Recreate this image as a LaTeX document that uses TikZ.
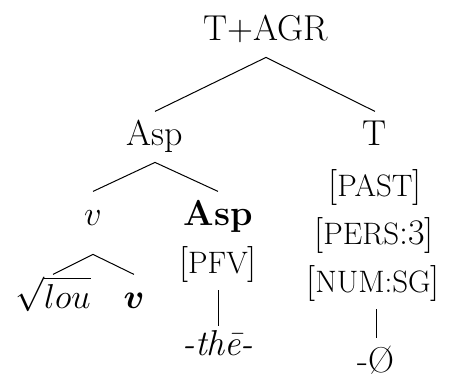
\documentclass[tikz,border=0pt]{standalone}
\usepackage{bm}
\newcommand{\fsc}[1]{{\fontsize{15.5}{18}\selectfont #1}}
\tikzset{
  tn/.style={anchor=base, inner sep=4pt, text height=12.6pt, text depth=4.5pt, font=\fontsize{18}{22}\selectfont},
  br/.style={line width=0.5pt}
}
\begin{document}
\begin{tikzpicture}[x=0.5pt,y=-0.5pt]
\useasboundingbox (0,0) rectangle (458,376);
\node[tn] (top) at (266,40) {T+AGR};
\node[tn] (asp) at (155,145) {Asp};
\node[tn] (t) at (375,145) {T};
\node[tn] (v) at (93,225) {$v$};
\node[tn] (aspb) at (218,225) {\textbf{Asp}};
\node[tn] (pfv) at (218,273) {[\fsc{PFV}]};
\node[tn] (the) at (218,355) {\textit{-th\=e-}};
\node[tn] (root) at (53,308) {$\sqrt{lou}$};
\node[tn] (vb) at (134,308) {$\bm{v}$};
\node[tn] (past) at (375,196) {[\fsc{PAST}]};
\node[tn] (pers) at (374,244) {[\fsc{PERS}:3]};
\node[tn] (num) at (373,292) {[\fsc{NUM:SG}]};
\node[tn] (null) at (376,372) {-\O};
\draw[br] (asp.north) -- (top.south) -- (t.north);
\draw[br] (v.north) -- (asp.south) -- (aspb.north);
\draw[br] (root.north) -- ([yshift=-6pt]v.south) -- (vb.north);
\draw[br] (pfv.south) -- ([yshift=-2.5pt]the.north);
\draw[br] (num.south -| null.north) -- (null.north);
\end{tikzpicture}
\end{document}
